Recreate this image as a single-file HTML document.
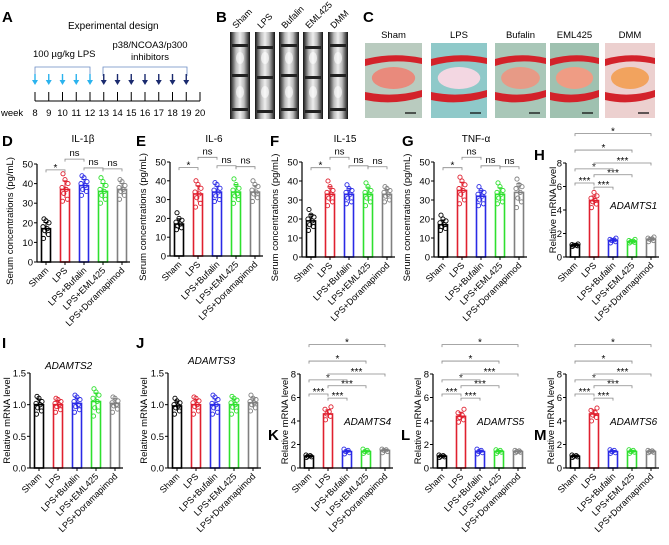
<!DOCTYPE html>
<html><head><meta charset="utf-8">
<style>
html,body{margin:0;padding:0;background:#fff;}
svg{display:block;font-family:"Liberation Sans",Arial,sans-serif;}
</style></head>
<body>
<svg id="fig" width="669" height="545" viewBox="0 0 669 545" xmlns="http://www.w3.org/2000/svg">
<defs>
<linearGradient id="xr" x1="0" x2="1" y1="0" y2="0">
<stop offset="0" stop-color="#111"/><stop offset="0.3" stop-color="#bbb"/><stop offset="0.5" stop-color="#eee"/><stop offset="0.7" stop-color="#bbb"/><stop offset="1" stop-color="#111"/></linearGradient>
</defs>
<g>
<text x="2" y="22" font-size="15" font-weight="bold">A</text>
<text x="68" y="29" font-size="10">Experimental design</text>
<text x="33" y="57" font-size="9.5">100 µg/kg LPS</text>
<text x="150" y="48" font-size="9.5" text-anchor="middle">p38/NCOA3/p300</text>
<text x="150" y="60" font-size="9.5" text-anchor="middle">inhibitors</text>
<path d="M35 76 V67 H90 V76" fill="none" stroke="#6a8bc4" stroke-width="0.8"/>
<path d="M103 76 V67 H187 V76" fill="none" stroke="#6a8bc4" stroke-width="0.8"/>
<g id="arrows"></g>
<g id="timeline"></g>
<text x="1" y="116" font-size="9.5">week</text>
</g>
<g>
<text x="216" y="22" font-size="15" font-weight="bold">B</text>
<g id="xray"></g>
</g>
<g>
<text x="363" y="22" font-size="15" font-weight="bold">C</text>
<g id="histo"></g>
</g>
<g id="charts"></g>
</svg>
<script>
const NS="http://www.w3.org/2000/svg";
function mk(tag,attrs,parent,txt){const e=document.createElementNS(NS,tag);for(const k in attrs)e.setAttribute(k,attrs[k]);if(txt!==undefined)e.textContent=txt;parent.appendChild(e);return e;}

const weeks=[8,9,10,11,12,13,14,15,16,17,18,19,20];
const lpsWeeks=[8,9,10,11,12];
const inhWeeks=[13,14,15,16,17,18,19];
const wx=w=>35+(w-8)*13.75;
const tl=document.getElementById('timeline');
let ax=mk('line',{x1:wx(8),x2:wx(20),y1:101,y2:101,stroke:'#000','stroke-width':1},tl);


weeks.forEach(w=>{
 const t=mk('line',{x1:wx(w),x2:wx(w),y1:92,y2:101,stroke:'#000','stroke-width':1},tl);
 
 
 const l=mk('text',{x:wx(w),y:116,'font-size':9.5,'text-anchor':'middle'},tl,String(w));
 
 
});
const ar=document.getElementById('arrows');
function arrow(w,col){
 const g=mk('g',{},ar);
 
 
 mk('line',{x1:wx(w),x2:wx(w),y1:74,y2:82,stroke:col,'stroke-width':1.4},g);
 mk('path',{d:`M${wx(w)-3} 80 L${wx(w)+3} 80 L${wx(w)} 85 Z`,fill:col},g);
}
lpsWeeks.forEach(w=>arrow(w,'#2bb3ee'));
inhWeeks.forEach(w=>arrow(w,'#1a2a6e'));

const bNames=['Sham','LPS','Bufalin','EML425','DMM'];
const bX=[230,255,279,303,328];
const xr=document.getElementById('xray');
bNames.forEach((n,i)=>{
 const g=mk('g',{},xr);
 
 
 mk('rect',{x:bX[i],y:32,width:20,height:87,fill:'url(#xr)'},g);
 [44,74,108].forEach(y=>mk('rect',{x:bX[i]+2,y:y+(i%2)*2,width:16,height:3,fill:'#222'},g));
 [58,92].forEach(y=>mk('ellipse',{cx:bX[i]+10,cy:y,rx:4,ry:6,fill:'#fff',opacity:0.6},g));
 const t=mk('text',{x:bX[i]+6,y:29,'font-size':9,transform:`rotate(-45 ${bX[i]+6} 29)`},g,n);
 
 
});

const cNames=['Sham','LPS','Bufalin','EML425','DMM'];
const cX=[365,431,495,550,605];
const cW=[57,56,51,49,50];
const cBg=['#b9cbbf','#8fc9c9','#a9c7b8','#9fc1b0','#ecd0cf'];
const cCore=['#e98a7c','#f3d7e2','#e79a86','#ef9c84','#f2a35e'];
const hs=document.getElementById('histo');
cNames.forEach((n,i)=>{
 const g=mk('g',{},hs);
 
 
 const x=cX[i],w=cW[i];
 mk('rect',{x:x,y:43,width:w,height:75,fill:cBg[i]},g);
 mk('path',{d:`M${x} 59 Q${x+w/2} 52 ${x+w} 58 L${x+w} 64 Q${x+w/2} 58 ${x} 66 Z`,fill:'#d3222a'},g);
 mk('path',{d:`M${x} 92 Q${x+w/2} 98 ${x+w} 90 L${x+w} 97 Q${x+w/2} 106 ${x} 100 Z`,fill:'#d3222a'},g);
 mk('ellipse',{cx:x+w/2,cy:78,rx:w*0.38,ry:11,fill:cCore[i]},g);
 mk('line',{x1:x+w-17,x2:x+w-6,y1:113,y2:113,stroke:'#111','stroke-width':1.3},g);
 const t=mk('text',{x:x+w/2,y:38,'font-size':9.5,'text-anchor':'middle'},g,n);
 
 
});

// ===== Chart data =====
const categories=['Sham','LPS','LPS+Bufalin','LPS+EML425','LPS+Doramapimod'];
const colors=['#000000','#e0202f','#2a2ae6','#2ee02e','#808080'];
const ilTicks=[0,10,20,30,40,50];
const mrnaTicks=[0,2,4,6,8];
const smallTicks=[0,0.5,1.0,1.5];
const il1bMeans=[17,37,39,36,37];
const il1bPts=[[12,14,16,17,18,20,21,22],[31,32,35,37,38,40,42,45],[34,36,37,39,40,41,43,44],[30,32,34,36,37,39,41,43],[32,34,36,37,38,39,41,42]];
const il6Means=[17,33,34,34,34];
const il6Pts=[[14,15,16,17,18,19,20,23],[26,28,31,33,34,36,38,40],[29,30,32,34,35,36,38,39],[28,30,32,33,35,36,38,41],[29,31,33,34,35,37,38,40]];
const il15Means=[19,33,33,33,33];
const il15Pts=[[14,16,17,19,20,21,22,25],[27,29,31,33,34,35,37,40],[28,29,31,33,34,35,36,38],[27,29,31,33,34,35,37,39],[29,30,32,33,34,35,36,37]];
const tnfMeans=[17,35,32,33,34];
const tnfPts=[[14,15,16,17,18,19,20,22],[28,30,33,35,36,38,40,42],[27,28,30,32,33,34,35,37],[28,29,31,33,34,35,37,39],[26,29,31,34,36,37,38,41]];
const a1Means=[1.0,4.8,1.4,1.3,1.5];
const a1Pts=[[0.9,0.95,1.0,1.0,1.05,1.1],[4.2,4.5,4.7,4.8,5.0,5.2,5.5],[1.2,1.3,1.4,1.45,1.5,1.6],[1.2,1.25,1.3,1.35,1.4,1.5],[1.3,1.4,1.5,1.55,1.6,1.7]];
const a2Means=[1.0,1.0,1.02,1.05,1.02];
const a2Pts=[[0.85,0.9,0.95,1.0,1.02,1.05,1.1,1.13],[0.88,0.92,0.97,1.0,1.02,1.05,1.08,1.1],[0.88,0.92,0.97,1.0,1.05,1.08,1.12,1.15],[0.82,0.9,0.95,1.05,1.1,1.15,1.2,1.25],[0.88,0.93,0.98,1.0,1.03,1.06,1.1,1.12]];
const a3Means=[0.98,1.0,1.0,1.0,1.03];
const a3Pts=[[0.85,0.9,0.95,0.98,1.0,1.03,1.06,1.1],[0.85,0.9,0.97,1.0,1.03,1.06,1.1,1.12],[0.85,0.88,0.95,1.0,1.02,1.08,1.12,1.15],[0.85,0.9,0.96,1.0,1.03,1.07,1.1,1.13],[0.9,0.95,1.0,1.03,1.05,1.08,1.1,1.15]];
const a4Means=[1.0,4.6,1.4,1.4,1.5];
const a4Pts=[[0.9,0.95,1.0,1.05,1.1],[4.1,4.4,4.6,4.8,5.0,5.2],[1.2,1.3,1.4,1.5,1.6],[1.25,1.35,1.4,1.5,1.6],[1.3,1.4,1.5,1.55,1.6]];
const a5Means=[1.0,4.4,1.4,1.4,1.4];
const a5Pts=[[0.9,0.95,1.0,1.05,1.1],[3.9,4.1,4.3,4.5,4.7,5.0],[1.2,1.3,1.4,1.5,1.6],[1.25,1.35,1.4,1.5,1.55],[1.3,1.35,1.4,1.45,1.5]];
const a6Means=[1.0,4.6,1.4,1.4,1.4];
const a6Pts=[[0.9,0.95,1.0,1.05,1.1],[4.0,4.3,4.5,4.7,4.9,5.1],[1.25,1.3,1.4,1.5,1.55],[1.25,1.35,1.4,1.5,1.55],[1.3,1.35,1.4,1.45,1.5]];
const ilBrackets=[[0,1,47,'*'],[1,2,52.5,'ns'],[2,3,48,'ns'],[3,4,47.5,'ns']];
const mrnaBrackets=[[0,1,6.3,'***'],[1,2,5.95,'***'],[1,3,7.0,'***'],[0,2,7.5,'*'],[1,4,8.0,'***'],[0,3,9.1,'*'],[0,4,10.5,'*']];

const panels=[
 {id:'d',letter:'D',lx:2,ly:146,ax:37,top:164,bot:262,ymax:50,ticks:ilTicks,means:il1bMeans,pts:il1bPts,br:ilBrackets,title:'IL-1β',tx:83,yt:'Serum concentrations (pg/mL)',ytx:10},
 {id:'e',letter:'E',lx:136,ly:146,ax:170,top:162,bot:256,ymax:50,ticks:ilTicks,means:il6Means,pts:il6Pts,br:ilBrackets,title:'IL-6',tx:214,yt:'Serum concentrations (pg/mL)',ytx:143},
 {id:'f',letter:'F',lx:270,ly:146,ax:302,top:162,bot:257,ymax:50,ticks:ilTicks,means:il15Means,pts:il15Pts,br:ilBrackets,title:'IL-15',tx:345,yt:'Serum concentrations (pg/mL)',ytx:275},
 {id:'g',letter:'G',lx:402,ly:146,ax:434,top:162,bot:257,ymax:50,ticks:ilTicks,means:tnfMeans,pts:tnfPts,br:ilBrackets,title:'TNF-α',tx:476,yt:'Serum concentrations (pg/mL)',ytx:407},
 {id:'h',letter:'H',lx:534,ly:160,ax:566,top:163,bot:257,ymax:8,ticks:mrnaTicks,means:a1Means,pts:a1Pts,br:mrnaBrackets,inner:'ADAMTS1',ix:610,iy:209,yt:'Relative mRNA level',ytx:553},
 {id:'i',letter:'I',lx:2,ly:348,ax:30,top:373,bot:468,ymax:1.5,ticks:smallTicks,means:a2Means,pts:a2Pts,br:[],inner:'ADAMTS2',ix:45,iy:369,yt:'Relative mRNA level',ytx:7},
 {id:'j',letter:'J',lx:136,ly:348,ax:168,top:373,bot:468,ymax:1.5,ticks:smallTicks,means:a3Means,pts:a3Pts,br:[],inner:'ADAMTS3',ix:188,iy:364,yt:'Relative mRNA level',ytx:144},
 {id:'k',letter:'K',lx:268,ly:440,ax:300,top:374,bot:468,ymax:8,ticks:mrnaTicks,means:a4Means,pts:a4Pts,br:mrnaBrackets,inner:'ADAMTS4',ix:344,iy:425,yt:'Relative mRNA level',ytx:285},
 {id:'l',letter:'L',lx:401,ly:440,ax:433,top:374,bot:468,ymax:8,ticks:mrnaTicks,means:a5Means,pts:a5Pts,br:mrnaBrackets,inner:'ADAMTS5',ix:477,iy:425,yt:'Relative mRNA level',ytx:418},
 {id:'m',letter:'M',lx:534,ly:440,ax:566,top:374,bot:468,ymax:8,ticks:mrnaTicks,means:a6Means,pts:a6Pts,br:mrnaBrackets,inner:'ADAMTS6',ix:610,iy:425,yt:'Relative mRNA level',ytx:551}
];
const jit=[-2.5,2.5,-1.2,1.2,-3,3,0,-2];
const root=document.getElementById('charts');
panels.forEach(p=>{
 const g=mk('g',{},root);
 
 
 const y=v=>p.bot-(v/p.ymax)*(p.bot-p.top);
 const x=i=>p.ax+9+i*19;
 const L=mk('text',{x:p.lx,y:p.ly,'font-size':15,'font-weight':'bold'},g,p.letter);
 
 
 if(p.title){const t=mk('text',{x:p.tx,y:142,'font-size':10,'text-anchor':'middle'},g,p.title);
  
  }
 if(p.inner){const t=mk('text',{x:p.ix,y:p.iy,'font-size':10,'font-style':'italic'},g,p.inner);
  
  }
 const cy=(p.top+p.bot)/2+(p.ymax==50?8:0);
 const yt=mk('text',{x:p.ytx,y:cy,'font-size':9.5,'text-anchor':'middle',transform:`rotate(-90 ${p.ytx} ${cy})`,dy:'3'},g,p.yt);
 
 
 p.means.forEach((m,i)=>{
  const b=mk('rect',{x:x(i)-4.5,y:y(m),width:9,height:p.bot-y(m),fill:'#fff',stroke:colors[i],'stroke-width':1.6},g);
  
  
  const pts=p.pts[i];
  const mx=Math.max(...pts),mn=Math.min(...pts);
  const sd=(mx-mn)/3.2;
  const e=mk('path',{d:`M${x(i)} ${y(m-sd)} V${y(m+sd)} M${x(i)-2.5} ${y(m+sd)} H${x(i)+2.5}`,stroke:colors[i],'stroke-width':1,fill:'none'},g);
  
  
  pts.forEach((v,k)=>{
   const c=mk('circle',{cx:x(i)+jit[k%8],cy:y(v),r:2.1,fill:'none',stroke:colors[i],'stroke-width':0.9},g);
   
   
  });
 });
 const ya=mk('line',{x1:p.ax,x2:p.ax,y1:p.top,y2:p.bot,stroke:'#000','stroke-width':1.2},g);
 
 
 const xa=mk('line',{x1:p.ax,x2:x(4)+8,y1:p.bot,y2:p.bot,stroke:'#000','stroke-width':1.2},g);
 
 
 p.ticks.forEach(t=>{
  mk('line',{x1:p.ax-3,x2:p.ax,y1:y(t),y2:y(t),stroke:'#000','stroke-width':1},g);
  const lab=mk('text',{x:p.ax-4,y:y(t)+3.5,'font-size':9.5,'text-anchor':'end'},g,p.ymax==1.5?t.toFixed(1):String(t));
  
  
 });
 categories.forEach((c,i)=>{
  mk('line',{x1:x(i),x2:x(i),y1:p.bot,y2:p.bot+3,stroke:'#000','stroke-width':1},g);
  const tx=x(i)+3,ty=p.bot+9;
  const lab=mk('text',{x:tx,y:ty,'font-size':9,'text-anchor':'end',transform:`rotate(-45 ${tx} ${ty})`},g,c);
  
  
 });
 p.br.forEach(b=>{
  const by=y(b[2]);
  const bg=mk('g',{},g);
  
  
  mk('path',{d:`M${x(b[0])} ${by+2.5} V${by} H${x(b[1])} V${by+2.5}`,fill:'none',stroke:'#888','stroke-width':0.8},bg);
  mk('text',{x:(x(b[0])+x(b[1]))/2,y:b[3]=='ns'?by-3:by+1,'font-size':b[3]=='ns'?9.5:10,'text-anchor':'middle'},bg,b[3]);
 });
});
</script>
</body></html>
